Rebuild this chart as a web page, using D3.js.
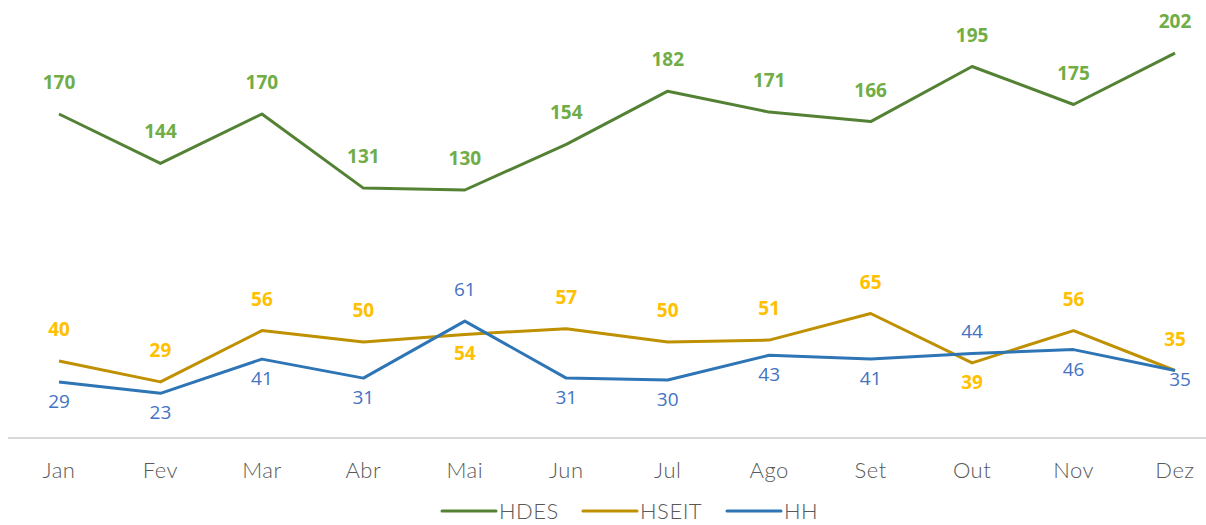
<!DOCTYPE html>
<html>
<head>
<meta charset="utf-8">
<script src="https://cdn.jsdelivr.net/npm/d3@7"></script>
<style>
  body { margin: 0; background: #fff; }
  .lbl { font-family: "Open Sans", sans-serif; font-size: 19px; }
  .axis-text { font-family: Lato, "Open Sans", sans-serif; font-weight: 300; font-size: 22px; fill: #595959; letter-spacing: 0.5px; }
</style>
</head>
<body>
<svg class="chart"></svg>
<script>
var months = ["Jan", "Fev", "Mar", "Abr", "Mai", "Jun", "Jul", "Ago", "Set", "Out", "Nov", "Dez"];
var hdes = [170, 144, 170, 131, 130, 154, 182, 171, 166, 195, 175, 202];
var hseit = [40, 29, 56, 50, 54, 57, 50, 51, 65, 39, 56, 35];
var hh = [29, 23, 41, 31, 61, 31, 30, 43, 41, 44, 46, 35];

// where each label goes relative to its point: "a" above, "b" below, "r" right, "n" near above
var hseitPos = ["a","a","a","a","b","a","a","a","a","b","a","a"];
var hhPos = ["b","b","b","b","a","b","b","b","b","n","b","r"];

var width = 1206, height = 525;
var svg = d3.select(".chart").attr("width", width).attr("height", height);

var x = d3.scalePoint().domain(months).range([59, 1175]);
var y = d3.scaleLinear().domain([0, 202]).range([437, 437 - 202 * 1.9]);

// baseline
svg.append("line")
  .attr("x1", 8).attr("x2", 1206)
  .attr("y1", 438).attr("y2", 438)
  .attr("stroke", "#d9d9d9").attr("stroke-width", 2);

// x axis labels
svg.append("g").selectAll("text")
  .data(months)
  .enter().append("text")
  .attr("class", "axis-text")
  .attr("x", function(d) { return x(d); })
  .attr("y", 478)
  .attr("text-anchor", "middle")
  .text(function(d) { return d; });

var series = [
  {name: "HDES", values: hdes, line: "#548235", label: "#70AD47", bold: true, pos: null},
  {name: "HSEIT", values: hseit, line: "#BF9000", label: "#FFC000", bold: true, pos: hseitPos},
  {name: "HH", values: hh, line: "#2E75B6", label: "#4472C4", bold: false, pos: hhPos}
];

var line = d3.line()
  .x(function(d, i) { return x(months[i]); })
  .y(function(d) { return y(d); });

series.forEach(function(s) {
  svg.append("path")
    .datum(s.values)
    .attr("fill", "none")
    .attr("stroke", s.line)
    .attr("stroke-width", 3)
    .attr("stroke-linejoin", "round")
    .attr("d", line);
});

series.forEach(function(s) {
  svg.append("g").selectAll("text")
    .data(s.values)
    .enter().append("text")
    .attr("class", "lbl")
    .attr("fill", s.label)
    .attr("font-weight", s.bold ? 700 : 400)
    .attr("font-size", s.bold ? "19px" : "20px")
    .attr("text-anchor", "middle")
    .attr("x", function(d, i) {
      var p = s.pos ? s.pos[i] : "a";
      return x(months[i]) + (p == "r" ? 5 : 0);
    })
    .attr("y", function(d, i) {
      var p = s.pos ? s.pos[i] : "a";
      if (p == "a") return y(d) - 25;
      if (p == "n") return y(d) - 15;
      if (p == "r") return y(d) + 15;
      return y(d) + 26;
    })
    .text(function(d) { return d; });
});

// legend
var legX = [442, 583, 727];
series.forEach(function(s, i) {
  svg.append("line")
    .attr("x1", legX[i]).attr("x2", legX[i] + 54)
    .attr("y1", 511).attr("y2", 511)
    .attr("stroke", s.line).attr("stroke-width", 3)
    .attr("stroke-linecap", "round");
  svg.append("text")
    .attr("class", "axis-text")
    .attr("x", legX[i] + 57)
    .attr("y", 519)
    .text(s.name);
});
</script>
</body>
</html>
